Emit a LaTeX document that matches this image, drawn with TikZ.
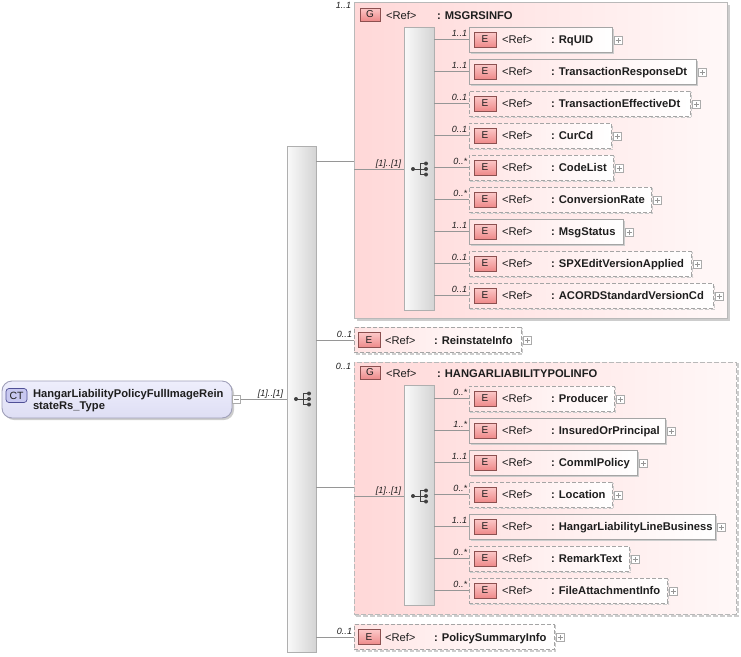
\documentclass[tikz,border=0pt]{standalone}
\usepackage{fontspec}
\setmainfont{Liberation Sans}
\usetikzlibrary{shadows,calc}
\definecolor{linec}{RGB}{150,150,150}
\definecolor{bordc}{RGB}{165,165,165}
\definecolor{gbordc}{RGB}{185,185,185}
\definecolor{shadc}{RGB}{205,205,205}
\definecolor{boxl}{RGB}{255,228,228}
\definecolor{grpl}{RGB}{255,216,216}
\definecolor{grpr}{RGB}{255,248,248}
\definecolor{badgetop}{RGB}{252,200,200}
\definecolor{badgebot}{RGB}{238,138,138}
\definecolor{badgebord}{RGB}{140,80,80}
\definecolor{barl}{RGB}{250,250,250}
\definecolor{barr}{RGB}{212,212,212}
\definecolor{barbord}{RGB}{175,175,175}
\definecolor{symc}{RGB}{64,64,64}
\definecolor{txtc}{RGB}{30,30,30}
\definecolor{ctfilltop}{RGB}{238,238,252}
\definecolor{ctfillbot}{RGB}{222,222,244}
\definecolor{ctbord}{RGB}{160,160,185}
\definecolor{ctbadgec}{RGB}{200,200,240}
\definecolor{ctbadgebord}{RGB}{80,80,150}
\definecolor{plusc}{RGB}{150,150,150}
\tikzset{
 every node/.style={inner sep=0pt, outer sep=0pt},
 conn/.style={draw=linec, line width=0.8pt},
 solidbox/.style={rectangle, draw=bordc, line width=0.9pt, left color=boxl, right color=white, minimum height=25pt,
   drop shadow={shadow xshift=2pt, shadow yshift=-2pt, fill=shadc, opacity=1}},
 dashbox/.style={rectangle, draw=bordc, line width=0.9pt, dash pattern=on 4pt off 2pt, left color=boxl, right color=white, minimum height=25pt,
   drop shadow={shadow xshift=1.5pt, shadow yshift=-1.5pt, fill=none, draw=shadc, line width=1.3pt, dash pattern=on 4pt off 2pt, opacity=1}},
 bar/.style={rectangle, draw=barbord, line width=0.8pt, left color=barl, right color=barr},
 gsolid/.style={rectangle, draw=gbordc, line width=1pt, left color=grpl, right color=grpr,
   drop shadow={shadow xshift=3pt, shadow yshift=-3pt, fill=shadc, opacity=1}},
 gdash/.style={rectangle, draw=gbordc, line width=1pt, dash pattern=on 5pt off 2pt, left color=grpl, right color=grpr,
   drop shadow={shadow xshift=2pt, shadow yshift=-2pt, fill=none, draw=shadc, line width=1.5pt, dash pattern=on 5pt off 2pt, opacity=1}},
 ebadge/.style={rectangle, draw=badgebord, line width=0.6pt, top color=badgetop, bottom color=badgebot,
   minimum width=22pt, minimum height=15pt, font=\fontsize{10}{10}\selectfont, text=txtc},
 gbadge/.style={rectangle, draw=badgebord, line width=0.6pt, top color=badgetop, bottom color=badgebot,
   minimum width=20pt, minimum height=13pt, font=\fontsize{10}{10}\selectfont, text=txtc},
 reft/.style={font=\fontsize{11.2}{12}\selectfont, text=txtc},
 namet/.style={font=\fontsize{11.2}{12}\selectfont\bfseries, text=txtc},
 multt/.style={font=\fontsize{9}{9}\selectfont\itshape, text=txtc},
 plusbox/.style={rectangle, draw=plusc!80, line width=0.6pt, fill=white, minimum width=8pt, minimum height=8pt,
   path picture={\draw[plusc, line width=0.6pt]
     ([xshift=-2.5pt]path picture bounding box.center) -- ([xshift=2.5pt]path picture bounding box.center)
     ([yshift=-2.5pt]path picture bounding box.center) -- ([yshift=2.5pt]path picture bounding box.center);}},
 minusbox/.style={rectangle, draw=plusc!80, line width=0.6pt, fill=white, minimum width=8pt, minimum height=8pt,
   path picture={\draw[plusc, line width=0.6pt]
     ([xshift=-2.5pt]path picture bounding box.center) -- ([xshift=2.5pt]path picture bounding box.center);}},
 ctbox/.style={rectangle, rounded corners=10pt, draw=ctbord, line width=0.9pt, top color=ctfilltop, bottom color=ctfillbot,
   drop shadow={shadow xshift=2pt, shadow yshift=-2pt, fill=shadc, opacity=1}},
 ctbadge/.style={rectangle, rounded corners=3pt, draw=ctbadgebord, line width=0.7pt, fill=ctbadgec,
   minimum width=21pt, minimum height=14pt, font=\fontsize{10.5}{10.5}\selectfont, text=txtc},
 seqsym/.pic={
   \draw[symc, line width=0.9pt] (-6,0) -- (1,0) (1,-5.5) -- (1,5.5) (1,-5.5) -- (7,-5.5) (1,5.5) -- (7,5.5) (1,0) -- (7,0);
   \fill[symc] (-6,0) circle (2pt) (7,-5.5) circle (2pt) (7,0) circle (2pt) (7,5.5) circle (2pt);
 }
}
\def\badgeoff{5}\def\refoff{33}\def\nameoff{82}
\newcommand\elem[8]{%
  \node[#5, minimum width=#4pt, anchor=west] (#1) at (#2,#3) {};
  \node[ebadge, anchor=west] (#1-b) at ($(#1.west)+(\badgeoff,0)$) {E};
  \node[reft, anchor=base west] (#1-r) at ($(#1.west)+(\refoff,4)$) {<Ref>};
  \node[namet, anchor=base west] (#1-n) at ($(#1.west)+(\nameoff,4)$) {: #6};
  \node[plusbox, anchor=west] (#1-p) at ($(#1.east)+(2,0.5)$) {};
  \node[multt, anchor=base east] (#1-m) at ($(#1.west)+(-2,-3)$) {#7};
  \draw[conn] (#8.east |- #1.west) -- (#1.west);
}
\begin{document}
\begin{tikzpicture}[x=1pt,y=-1pt]
\useasboundingbox (0,0) rectangle (741,656);
% complex type
\node[ctbox, minimum width=230pt, minimum height=37pt, anchor=north west] (ct) at (2,381) {};
\node[ctbadge, anchor=west] (ctb) at (6,395.5) {CT};
\node[namet, anchor=base west] (ctt1) at (33,397) {HangarLiabilityPolicyFullImageRein};
\node[namet, anchor=base west] (ctt2) at (33,409) {stateRs\_Type};
\node[minusbox, anchor=west] (ctm) at (232.5,399.5) {};
% main sequence
\node[bar, minimum width=29pt, minimum height=506pt, anchor=north west] (mainbar) at (287,146) {};
\pic at (302,399) {seqsym};
\draw[conn] (ctm.east) -- (mainbar.west |- ctm.east);
\node[multt, anchor=base east] (ctmult) at (283,396) {[1]..[1]};
% group MSGRSINFO
\node[gsolid, minimum width=373pt, minimum height=316pt, anchor=north west] (g1) at (354,2) {};
\node[gbadge, anchor=north west] (g1b) at (360,8) {G};
\node[reft, anchor=base west] (g1r) at (386,19) {<Ref>};
\node[namet, anchor=base west] (g1n) at (437,19) {: MSGRSINFO};
\node[multt, anchor=base east] (g1m) at (351,8.5) {1..1};
\draw[conn] (mainbar.east |- 0,161) -- (g1.west |- 0,161);
\node[bar, minimum width=30pt, minimum height=283pt, anchor=north west] (bar1) at (404,27) {};
\draw[conn] (g1.west |- 0,169) -- (bar1.west |- 0,169);
\node[multt, anchor=base east] (g1s) at (401,166) {[1]..[1]};
\pic at (419,169) {seqsym};
\elem{rquid}{469}{39.5}{143}{solidbox}{RqUID}{1..1}{bar1}
\elem{trdt}{469}{71.5}{227}{solidbox}{TransactionResponseDt}{1..1}{bar1}
\elem{tedt}{469}{103.5}{221}{dashbox}{TransactionEffectiveDt}{0..1}{bar1}
\elem{curcd}{469}{135.5}{142}{dashbox}{CurCd}{0..1}{bar1}
\elem{codelist}{469}{167.5}{144}{dashbox}{CodeList}{0..*}{bar1}
\elem{convrate}{469}{199.5}{182}{dashbox}{ConversionRate}{0..*}{bar1}
\elem{msgstatus}{469}{231.5}{154}{solidbox}{MsgStatus}{1..1}{bar1}
\elem{spx}{469}{263.5}{222}{dashbox}{SPXEditVersionApplied}{0..1}{bar1}
\elem{acord}{469}{295.5}{244}{dashbox}{ACORDStandardVersionCd}{0..1}{bar1}
% group HANGARLIABILITYPOLINFO
\node[gdash, minimum width=382pt, minimum height=252pt, anchor=north west] (g2) at (354,362) {};
\node[gbadge, anchor=north west] (g2b) at (360,366) {G};
\node[reft, anchor=base west] (g2r) at (386,377) {<Ref>};
\node[namet, anchor=base west] (g2n) at (437,377) {: HANGARLIABILITYPOLINFO};
\node[multt, anchor=base east] (g2m) at (351,369) {0..1};
\draw[conn] (mainbar.east |- 0,487) -- (g2.west |- 0,487);
\node[bar, minimum width=30pt, minimum height=220pt, anchor=north west] (bar2) at (404,385) {};
\draw[conn] (g2.west |- 0,496) -- (bar2.west |- 0,496);
\node[multt, anchor=base east] (g2s) at (401,493) {[1]..[1]};
\pic at (419,496) {seqsym};
\elem{producer}{469}{398.5}{145}{dashbox}{Producer}{0..*}{bar2}
\elem{insured}{469}{430.5}{196}{solidbox}{InsuredOrPrincipal}{1..*}{bar2}
\elem{commlpolicy}{469}{462.5}{168}{solidbox}{CommlPolicy}{1..1}{bar2}
\elem{location}{469}{494.5}{143}{dashbox}{Location}{0..*}{bar2}
\elem{hllb}{469}{526.5}{246}{solidbox}{HangarLiabilityLineBusiness}{1..1}{bar2}
\elem{remark}{469}{558.5}{160}{dashbox}{RemarkText}{0..*}{bar2}
\elem{fileatt}{469}{590.5}{198}{dashbox}{FileAttachmentInfo}{0..*}{bar2}
% top-level elements
\def\badgeoff{4}\def\refoff{31}\def\nameoff{80}
\elem{rein}{354}{340}{167}{dashbox}{ReinstateInfo}{0..1}{mainbar}
\elem{polsum}{354}{637}{200}{dashbox}{PolicySummaryInfo}{0..1}{mainbar}
\end{tikzpicture}
\end{document}
